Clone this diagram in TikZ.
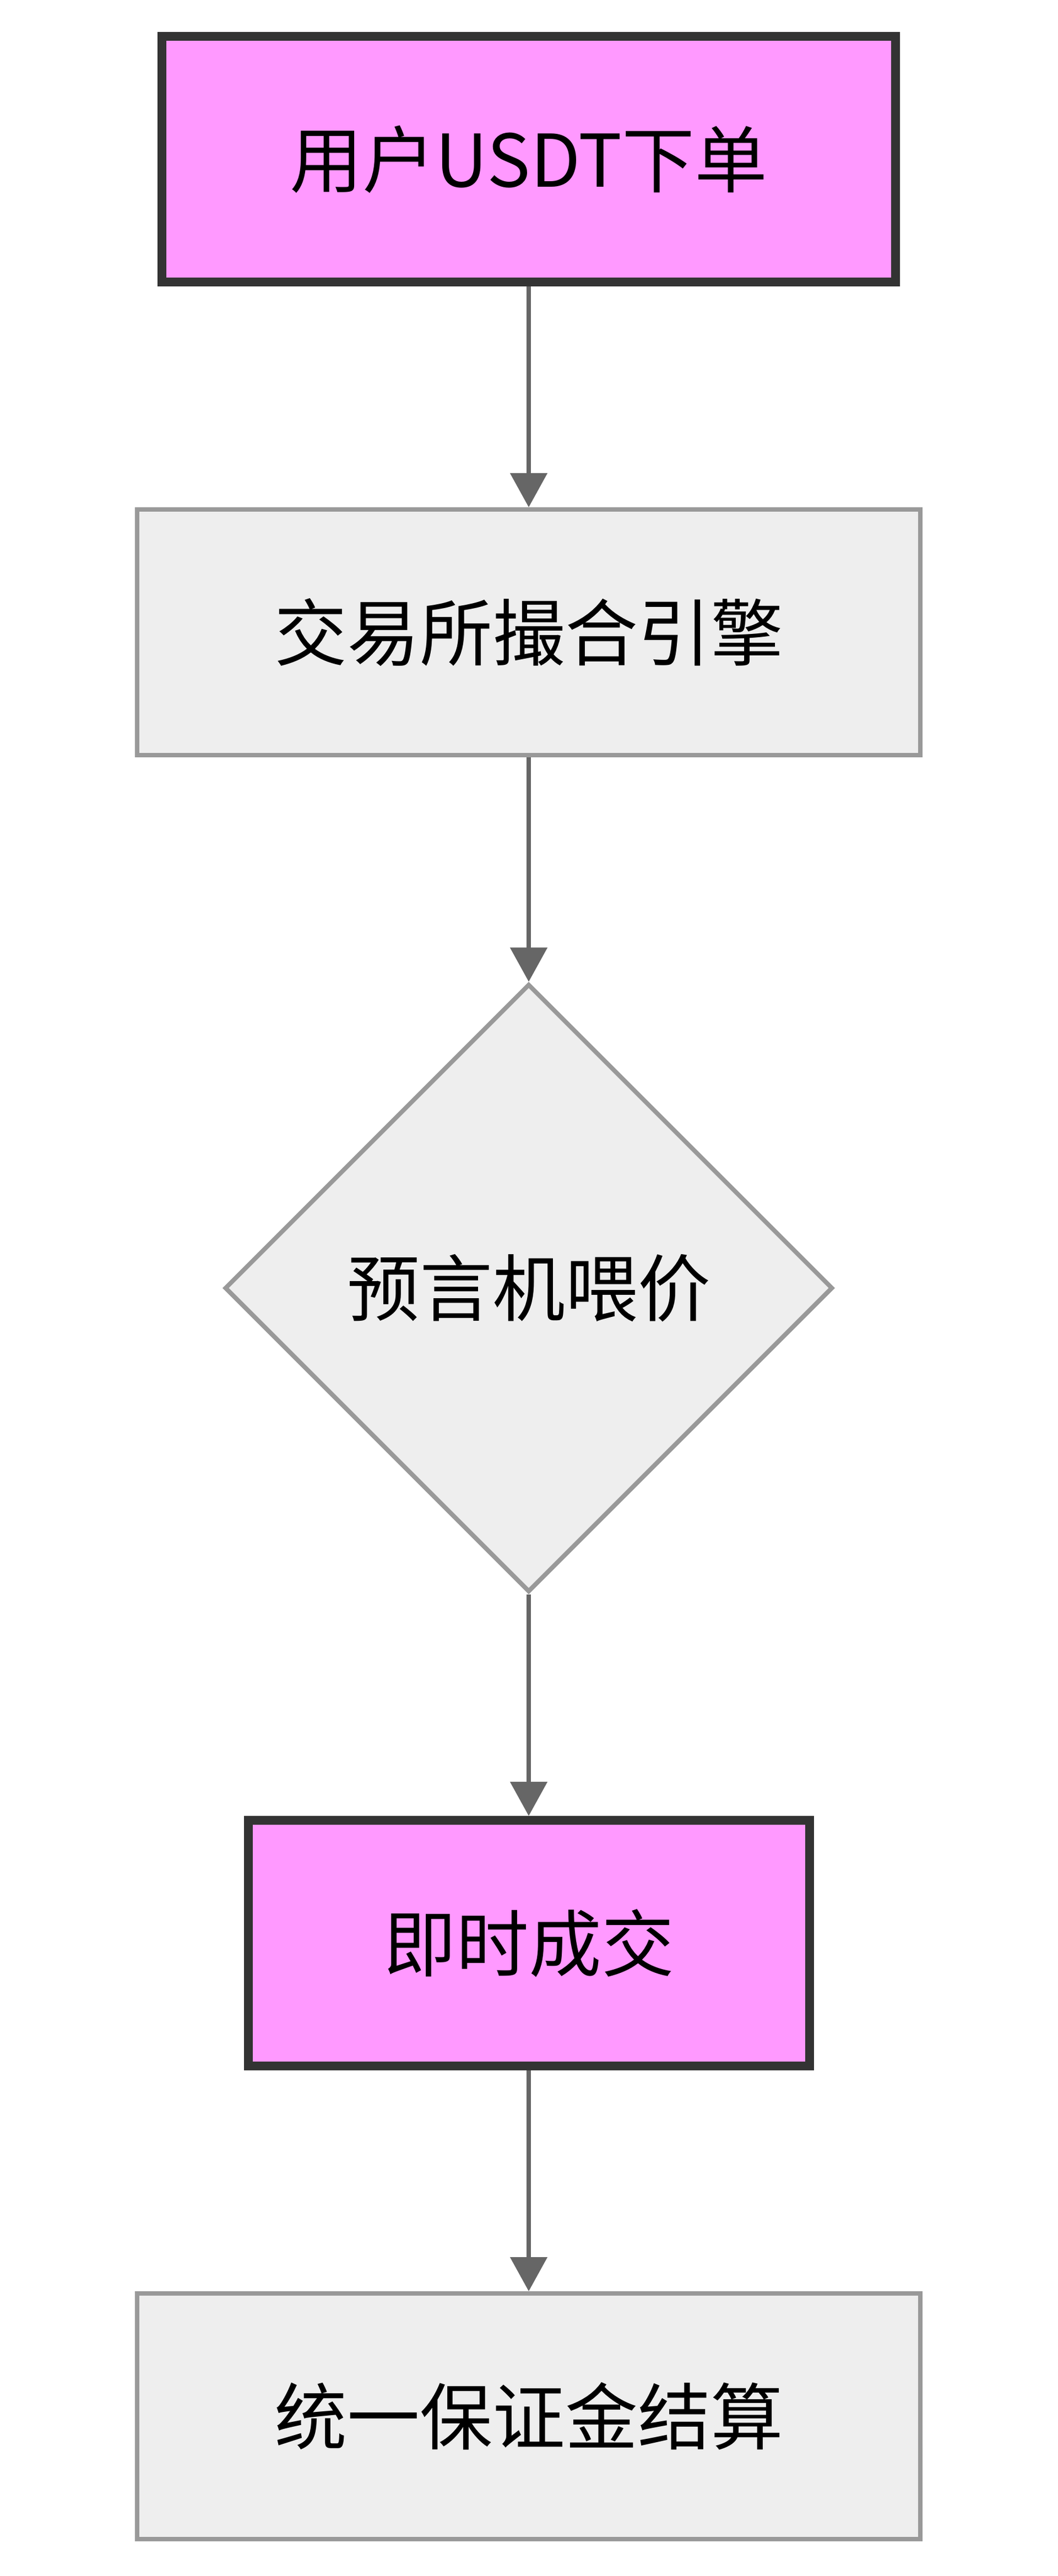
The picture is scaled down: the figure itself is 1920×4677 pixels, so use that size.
\documentclass[tikz,border=0pt]{standalone}
\usepackage{fontspec}
\setmainfont{Noto Sans CJK SC}
\usepackage{xcolor}
\usetikzlibrary{arrows.meta,shapes.geometric}

\definecolor{pinkfill}{HTML}{FF99FF}
\definecolor{pinkline}{HTML}{333333}
\definecolor{greyfill}{HTML}{EEEEEE}
\definecolor{greyline}{HTML}{999999}
\definecolor{flowline}{HTML}{666666}

\begin{document}
\begin{tikzpicture}[x=0.25pt,y=-0.25pt,
    txt/.style={font=\fontsize{33pt}{40pt}\selectfont, text=black},
    pinkbox/.style={txt, draw=pinkline, fill=pinkfill, line width=4pt, minimum height=111.5pt},
    greybox/.style={txt, draw=greyline, fill=greyfill, line width=2pt, minimum width=355.5pt, minimum height=111.5pt},
    decide/.style={txt, shape=diamond, aspect=1, inner sep=0pt, draw=greyline, fill=greyfill, line width=2pt, minimum width=276pt, minimum height=276pt},
    flow/.style={draw=flowline, line width=2pt, -{Triangle[width=16.5pt,length=15.5pt]}}]
            \useasboundingbox (0,0) rectangle (1920,4677);
            \node[pinkbox, minimum width=333pt] (order) at (960,289) {用户USDT下单};
            \node[greybox] (engine) at (960,1148) {交易所撮合引擎};
            \node[decide] (oracle) at (960,2338.5) {预言机喂价};
            \node[pinkbox, minimum width=254.75pt] (fill) at (960,3528) {即时成交};
            \node[greybox] (margin) at (960,4387) {统一保证金结算};
            \draw[flow] (order) -- (engine);
            \draw[flow] (engine) -- (oracle);
            \draw[flow] (oracle) -- (fill);
            \draw[flow] (fill) -- (margin);
        \end{tikzpicture}
\end{document}
